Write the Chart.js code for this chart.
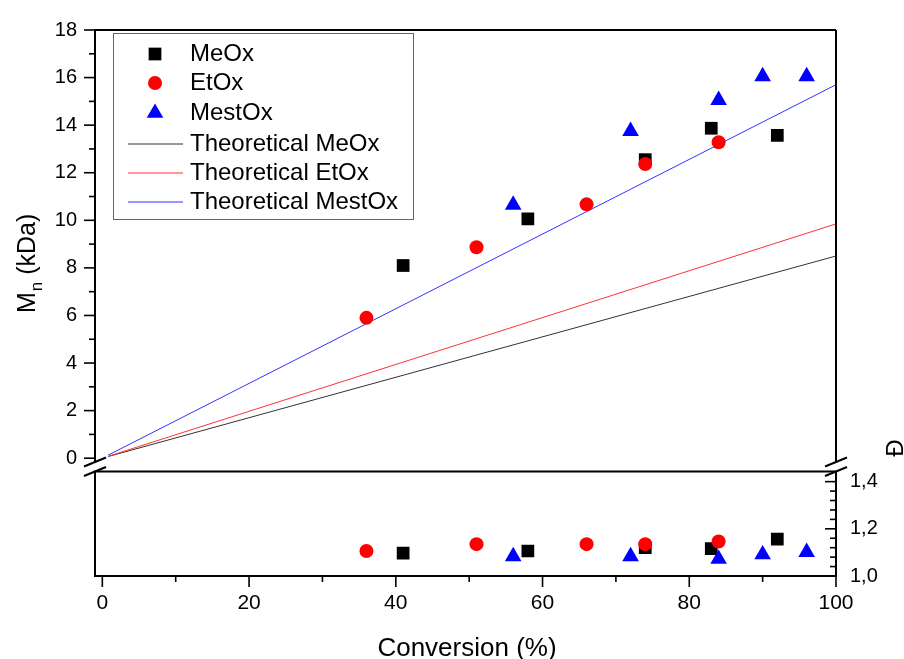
<!DOCTYPE html>
<html>
<head>
<meta charset="utf-8">
<title>Mn and dispersity vs conversion</title>
<script src="https://cdn.jsdelivr.net/npm/chart.js@4.4.1/dist/chart.umd.min.js"></script>
<style>
  html, body { margin: 0; padding: 0; background: #fff; }
  canvas { display: block; }
</style>
</head>
<body>
<canvas id="kinetics" width="904" height="659"></canvas>
<script>
// monomer conversion (%) of each sample
const convMeOx = [41, 58, 74, 83, 92];
const convEtOx = [36, 51, 66, 74, 84];
const convMestOx = [56, 72, 84, 90, 96];

// Mn (kDa) from GPC
const mnMeOx = [8.1, 10.06, 12.55, 13.87, 13.57];
const mnEtOx = [5.9, 8.87, 10.67, 12.37, 13.28];
const mnMestOx = [10.65, 13.75, 15.05, 16.05, 16.05];

// dispersity
const dispMeOx = [1.097, 1.106, 1.12, 1.116, 1.156];
const dispEtOx = [1.106, 1.135, 1.135, 1.135, 1.146];
const dispMestOx = [1.083, 1.083, 1.072, 1.091, 1.101];

// theoretical Mn lines (end points)
const theoConv = [0.8, 100];
const theoMeOx = [0.07, 8.5];
const theoEtOx = [0.08, 9.85];
const theoMestOx = [0.13, 15.7];

// ticks
const convTicks = [0, 20, 40, 60, 80, 100];
const convMinor = [10, 30, 50, 70, 90];
const mnTicks = [0, 2, 4, 6, 8, 10, 12, 14, 16, 18];
const mnMinor = [1, 3, 5, 7, 9, 11, 13, 15, 17];
const dispTicks = [1.0, 1.2, 1.4];
const dispMinor = [1.04, 1.08, 1.12, 1.16, 1.24, 1.28, 1.32, 1.36];

// layout of the broken axis
const LEFT_W = 95, RIGHT_W = 68, BOTTOM_H = 83, TOP_PAD = 28;
const LOWER_H = 104.5, GAP = 9.5;

const FONT = "'Liberation Sans', Arial, sans-serif";
Chart.defaults.font.family = FONT;
Chart.defaults.color = '#000';

const pts = (xs, ys) => xs.map((x, i) => ({ x: x, y: ys[i] }));

const marker = (label, style, r, color, order) => ({
  label: label, pointStyle: style, pointRadius: r, backgroundColor: color,
  borderColor: color, borderWidth: 0, showLine: false, order: order
});

const theory = (label, ys, color, order) => ({
  label: label, data: pts(theoConv, ys), showLine: true, pointRadius: 0,
  borderColor: color, borderWidth: 1, yAxisID: 'y', order: order
});

const datasets = [
  Object.assign(marker('MeOx', 'rect', 9, '#000000', 3), { data: pts(convMeOx, mnMeOx), yAxisID: 'y' }),
  Object.assign(marker('EtOx', 'circle', 7, '#ff0000', 2), { data: pts(convEtOx, mnEtOx), yAxisID: 'y' }),
  Object.assign(marker('MestOx', 'triangle', 9.6, '#0000ff', 1), { data: pts(convMestOx, mnMestOx), yAxisID: 'y' }),
  theory('Theoretical MeOx', theoMeOx, '#333333', 6),
  theory('Theoretical EtOx', theoEtOx, '#ff3333', 5),
  theory('Theoretical MestOx', theoMestOx, '#3333ff', 4),
  Object.assign(marker('MeOx Đ', 'rect', 9, '#000000', 3), { data: pts(convMeOx, dispMeOx), yAxisID: 'y2' }),
  Object.assign(marker('EtOx Đ', 'circle', 7, '#ff0000', 2), { data: pts(convEtOx, dispEtOx), yAxisID: 'y2' }),
  Object.assign(marker('MestOx Đ', 'triangle', 9.6, '#0000ff', 1), { data: pts(convMestOx, dispMestOx), yAxisID: 'y2' })
];

const setTicks = list => scale => { scale.ticks = list.map(v => ({ value: v })); };

function line(ctx, x1, y1, x2, y2) {
  ctx.beginPath();
  ctx.moveTo(x1, y1);
  ctx.lineTo(x2, y2);
  ctx.stroke();
}

// splits the plot into an upper Mn panel and a lower dispersity panel,
// then draws frames, ticks, break marks, titles and the legend
const brokenAxis = {
  id: 'brokenAxis',
  afterLayout(chart) {
    const { y, y2 } = chart.scales;
    const a = chart.chartArea;
    y2.top = a.bottom - LOWER_H;
    y2.bottom = a.bottom;
    y2.height = LOWER_H;
    y.top = a.top;
    y.bottom = y2.top - GAP;
    y.height = y.bottom - y.top;
    [y, y2].forEach(s => {
      s.configure();
      s._gridLineItems = null;
      s._labelItems = null;
    });
  },
  afterDatasetsDraw(chart) {
    const { ctx } = chart;
    const { x, y, y2 } = chart.scales;
    const L = chart.chartArea.left, R = chart.chartArea.right;
    ctx.save();
    ctx.strokeStyle = '#000';
    ctx.lineCap = 'butt';

    // frames
    ctx.lineWidth = 2;
    line(ctx, L - 1, y.top, R, y.top);
    line(ctx, L, y.top, L, y.bottom);
    line(ctx, R, y.top, R, y.bottom);
    ctx.strokeRect(L, y2.top, R - L, y2.bottom - y2.top);

    // ticks
    ctx.lineWidth = 1.6;
    mnTicks.forEach(v => { const p = y.getPixelForValue(v); line(ctx, L - 11, p, L, p); });
    mnMinor.forEach(v => { const p = y.getPixelForValue(v); line(ctx, L - 6, p, L, p); });
    convTicks.forEach(v => { const p = x.getPixelForValue(v); line(ctx, p, y2.bottom, p, y2.bottom + 11); });
    convMinor.forEach(v => { const p = x.getPixelForValue(v); line(ctx, p, y2.bottom, p, y2.bottom + 6); });
    dispTicks.forEach(v => { const p = y2.getPixelForValue(v); line(ctx, R - 11, p, R, p); });
    dispMinor.forEach(v => { const p = y2.getPixelForValue(v); line(ctx, R - 6, p, R, p); });

    // break marks
    ctx.lineWidth = 2;
    [L, R].forEach(bx => {
      [y.bottom, y2.top].forEach(by => line(ctx, bx - 11, by + 4.5, bx + 11, by - 4.5));
    });

    // axis titles
    ctx.fillStyle = '#000';
    ctx.textBaseline = 'alphabetic';
    ctx.textAlign = 'center';
    ctx.font = '26px ' + FONT;
    ctx.fillText('Conversion (%)', 467, 656);

    ctx.save();
    ctx.translate(35, 313);
    ctx.rotate(-Math.PI / 2);
    ctx.textAlign = 'left';
    ctx.font = '25px ' + FONT;
    ctx.fillText('M', 0, 0);
    let w = ctx.measureText('M').width;
    ctx.font = '17px ' + FONT;
    ctx.fillText('n', w + 1, 7);
    w += ctx.measureText('n').width + 1;
    ctx.font = '25px ' + FONT;
    ctx.fillText(' (kDa)', w, 0);
    ctx.restore();

    ctx.save();
    ctx.translate(903, 448);
    ctx.rotate(-Math.PI / 2);
    ctx.font = '24px ' + FONT;
    ctx.fillText('Đ', 0, 0);
    ctx.restore();

    // legend
    ctx.lineWidth = 1;
    ctx.strokeStyle = '#666';
    ctx.strokeRect(113.5, 33.5, 300, 186);
    const rows = [54, 83, 113, 144, 173, 202];
    ctx.font = '24px ' + FONT;
    ctx.textAlign = 'left';
    ctx.textBaseline = 'middle';
    chart.data.datasets.slice(0, 6).forEach((ds, i) => {
      const ry = rows[i];
      if (ds.showLine) {
        ctx.strokeStyle = ds.borderColor;
        ctx.lineWidth = 1;
        line(ctx, 128, ry, 183, ry);
      } else {
        ctx.fillStyle = ds.backgroundColor;
        Chart.helpers.drawPoint(ctx, {
          pointStyle: ds.pointStyle, radius: ds.pointRadius, rotation: 0, borderWidth: 0
        }, 155, ry);
      }
      ctx.fillStyle = '#000';
      ctx.fillText(ds.label, 190, ry);
    });
    ctx.restore();
  }
};

new Chart(document.getElementById('kinetics'), {
  type: 'scatter',
  data: { datasets: datasets },
  plugins: [brokenAxis],
  options: {
    responsive: false,
    animation: false,
    events: [],
    layout: { padding: { top: TOP_PAD, left: 0, right: 0, bottom: 0 } },
    plugins: {
      legend: { display: false },
      tooltip: { enabled: false }
    },
    scales: {
      x: {
        type: 'linear',
        position: 'bottom',
        min: -1,
        max: 100,
        afterBuildTicks: setTicks(convTicks),
        afterFit: s => { s.height = BOTTOM_H; },
        grid: { display: false, drawTicks: false },
        border: { display: false },
        ticks: { font: { size: 21 }, padding: 15, maxRotation: 0 }
      },
      y: {
        type: 'linear',
        position: 'left',
        min: -0.16,
        max: 18,
        afterBuildTicks: setTicks(mnTicks),
        afterFit: s => { s.width = LEFT_W; },
        grid: { display: false, drawTicks: false },
        border: { display: false },
        ticks: { font: { size: 20 }, padding: 18, autoSkip: false }
      },
      y2: {
        type: 'linear',
        position: 'right',
        min: 1.0,
        max: 1.443,
        afterBuildTicks: setTicks(dispTicks),
        afterFit: s => { s.width = RIGHT_W; },
        grid: { display: false, drawTicks: false },
        border: { display: false },
        ticks: {
          font: { size: 20 },
          padding: 14,
          autoSkip: false,
          callback: v => v.toFixed(1).replace('.', ',')
        }
      }
    }
  }
});
</script>
</body>
</html>
